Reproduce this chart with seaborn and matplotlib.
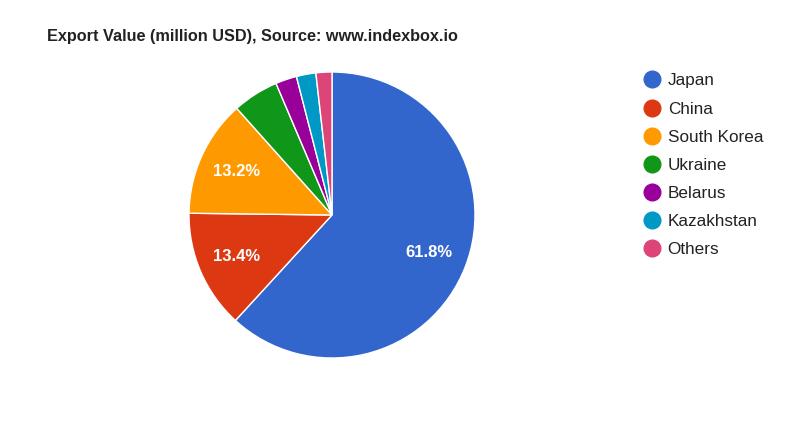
import matplotlib
matplotlib.use("Agg")
import matplotlib.pyplot as plt
from matplotlib.lines import Line2D
import seaborn as sns

countries = ['Japan', 'China', 'South Korea', 'Ukraine', 'Belarus', 'Kazakhstan', 'Others']
shares = [61.8, 13.4, 13.2, 5.2, 2.4, 2.2, 1.8]
colors = ['#3366cc', '#dc3912', '#ff9900', '#109618', '#990099', '#0099c6', '#dd4477']
title = 'Export Value (million USD), Source: www.indexbox.io'


def main():
    sns.set_style('white')
    plt.rcParams['font.family'] = ['Liberation Sans', 'DejaVu Sans']
    palette = sns.color_palette(colors)

    fig = plt.figure(figsize=(8, 4.26), dpi=100)
    ax = fig.add_axes([0.415 - 0.17875, 0.4953 - 0.3357, 0.3575, 0.6714])

    def fmt(p):
        return f'{p:.1f}%' if p > 10 else ''

    wedges, _, autotexts = ax.pie(
        shares, colors=palette, startangle=90, counterclock=False,
        autopct=fmt, pctdistance=0.73, radius=1,
        wedgeprops=dict(edgecolor='white', linewidth=1),
        textprops=dict(color='white', fontsize=12, fontweight='bold'),
    )
    ax.set_xlim(-1, 1)
    ax.set_ylim(-1, 1)
    ax.set_aspect('equal')
    ax.axis('off')

    fig.text(47 / 800, 1 - 37 / 426, title, fontsize=11.7, fontweight='bold',
             color='#222222', va='center', ha='left')

    handles = [Line2D([], [], marker='o', linestyle='', markersize=12,
                      markerfacecolor=c, markeredgecolor=c) for c in palette]
    fig.legend(handles, countries, loc='upper left',
               bbox_to_anchor=(626 / 800, 1 - 58 / 426), frameon=False,
               fontsize=12.3, labelspacing=0.77, handletextpad=0.34,
               handlelength=1.2, labelcolor='#222222')

    fig.savefig('out.png', dpi=100, facecolor='white')


if __name__ == '__main__':
    main()
